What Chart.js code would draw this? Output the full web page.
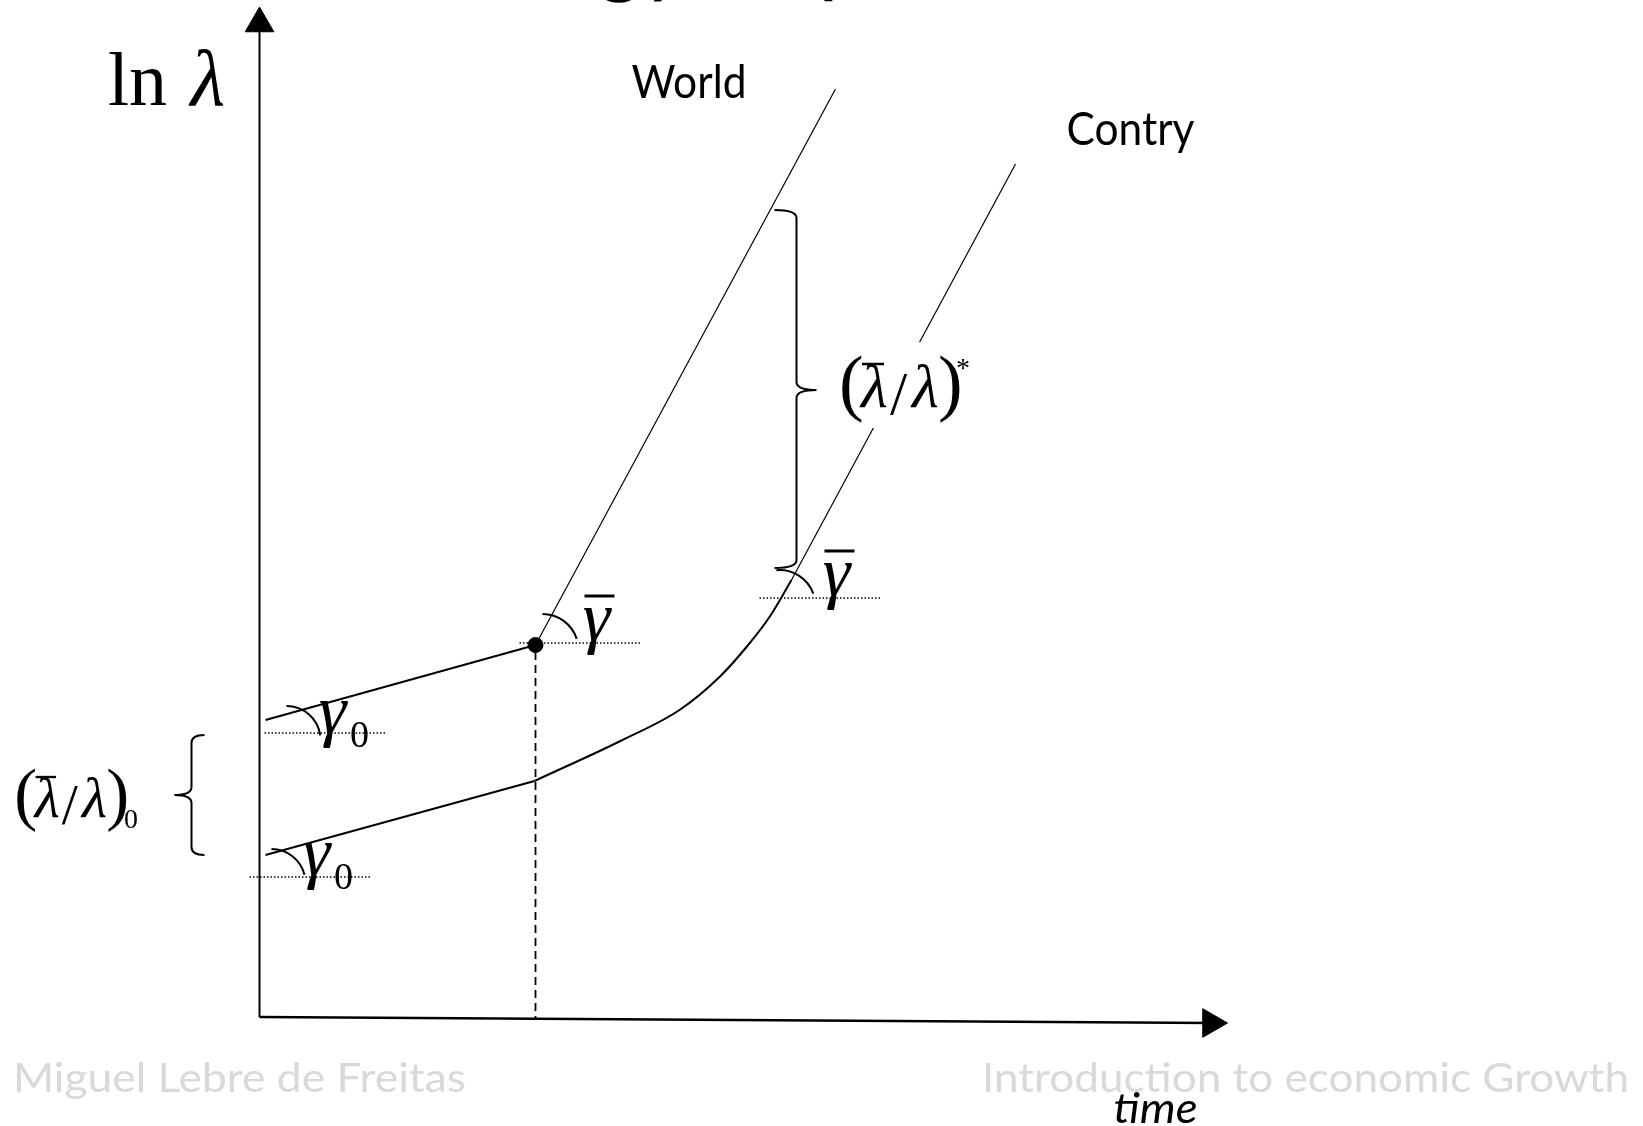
<!DOCTYPE html>
<html>
<head>
<meta charset="utf-8">
<title>Technology Gap</title>
<script src="https://cdn.jsdelivr.net/npm/chart.js@4.4.1/dist/chart.umd.min.js"></script>
<style>
  html, body { margin: 0; padding: 0; background: #fff; }
  canvas { display: block; }
</style>
</head>
<body>
<canvas id="gapChart" width="1643" height="1126"></canvas>
<script>
// time along x, ln(lambda) up y, both zero where the axes meet
const axisT = [0, 0, 95.15];
const axisL = [99.35, 0, -0.6];

const worldT = [0.6, 27.6, 57.6];
const worldL = [29.7, 37.2, 92.8];

// country: old growth, catch-up curve, then same slope as the world
const countryT = [0.6, 27.5, 36.3, 42.0, 46.0, 48.7, 51.0, 53.2, 75.6];
const countryL = [16.2, 23.6, 27.7, 30.7, 34.0, 37.0, 40.0, 43.7, 85.3];

// switch date for the world growth rate
const switchT = [27.6];
const switchL = [37.2];

// dotted horizontals under each angle
const guideT0 = [0.5, -1.0, 26.0, 50.0];
const guideT1 = [12.7, 11.2, 38.2, 62.2];
const guideL = [28.4, 14.0, 37.4, 41.9];

// text and markers, placed in the same t / ln(lambda) units
const angleArcs = [
  { t: 2.7, l: 27.7, r: 34, from: -90, to: -8 },
  { t: 1.2, l: 13.4, r: 34, from: -90, to: -14 },
  { t: 28.3, l: 36.7, r: 36, from: -90, to: -18 },
  { t: 52.0, l: 41.1, r: 36, from: -95, to: -20 }
];
const rateLabels = [
  { t: 7.3, l: 28.4, bar: false },
  { t: 5.7, l: 14.2, bar: false },
  { t: 33.7, l: 37.7, bar: true },
  { t: 57.7, l: 42.2, bar: true }
];
const braces = [
  { t: 53.7, top: 80.7, mid: 62.7, bottom: 44.9, hook: 22, tip: 20, dir: 1 },
  { t: -6.8, top: 28.2, mid: 22.2, bottom: 16.2, hook: 13, tip: 17, dir: -1 }
];
const ratioLabels = [
  { t: 58.25, l: 61.0, size: 1, mark: '*', clear: true },
  { t: -24.25, l: 20.0, size: 0.93, mark: '0', clear: false }
];

const pts = (ts, ls) => ts.map((t, i) => ({ x: t, y: ls[i] }));

function guidePoints() {
  const out = [];
  guideL.forEach((l, i) => {
    out.push({ x: guideT0[i], y: l }, { x: guideT1[i], y: l }, { x: guideT1[i], y: null });
  });
  return out;
}

function line(data, width, extra) {
  return Object.assign({
    data: data,
    showLine: true,
    borderColor: '#000',
    borderWidth: width,
    pointRadius: 0,
    fill: false,
    tension: 0
  }, extra || {});
}

function fitText(ctx, text, x, y, width) {
  const w = ctx.measureText(text).width;
  ctx.save();
  ctx.translate(x, y);
  ctx.scale(width / w, 1);
  ctx.fillText(text, 0, 0);
  ctx.restore();
}

function brace(ctx, x, yTop, yMid, yBot, hook, tip, dir) {
  const r = 8;
  ctx.beginPath();
  ctx.moveTo(x - dir * hook, yTop);
  ctx.quadraticCurveTo(x, yTop, x, yTop + r);
  ctx.lineTo(x, yMid - r);
  ctx.quadraticCurveTo(x, yMid, x + dir * tip, yMid);
  ctx.quadraticCurveTo(x, yMid, x, yMid + r);
  ctx.lineTo(x, yBot - r);
  ctx.quadraticCurveTo(x, yBot, x - dir * hook, yBot);
  ctx.stroke();
}

function ratio(ctx, x0, b, s, mark, clear) {
  if (clear) {
    ctx.fillStyle = '#fff';
    ctx.fillRect(x0 - 4 * s, b - 65 * s, 130 * s, 86 * s);
    ctx.fillStyle = '#000';
  }
  const serif = '"Liberation Serif", "DejaVu Serif", serif';
  ctx.font = `${74 * s}px ${serif}`;
  ctx.fillText('(', x0 - 3 * s, b);
  ctx.fillText(')', x0 + 96 * s, b);
  ctx.font = `italic ${62 * s}px ${serif}`;
  ctx.fillText('λ', x0 + 19 * s, b);
  ctx.fillText('λ', x0 + 70 * s, b);
  ctx.font = `${62 * s}px ${serif}`;
  ctx.fillText('/', x0 + 48 * s, b + 7 * s);
  ctx.lineWidth = 2.5 * s;
  ctx.beginPath();
  ctx.moveTo(x0 + 20 * s, b - 43 * s);
  ctx.lineTo(x0 + 42 * s, b - 43 * s);
  ctx.stroke();
  if (mark === '*') {
    ctx.font = `${28 * s}px ${serif}`;
    ctx.fillText('*', x0 + 114 * s, b - 30 * s);
  } else {
    ctx.font = `${30 * s}px ${serif}`;
    ctx.fillText(mark, x0 + 115 * s, b + 12 * s);
  }
}

const sketchNotes = {
  id: 'sketchNotes',
  afterDatasetsDraw(chart) {
    const { ctx, scales } = chart;
    const px = t => scales.x.getPixelForValue(t);
    const py = l => scales.y.getPixelForValue(l);
    const serif = '"Liberation Serif", "DejaVu Serif", serif';
    ctx.save();
    ctx.fillStyle = '#000';
    ctx.strokeStyle = '#000';
    ctx.textBaseline = 'alphabetic';
    ctx.textAlign = 'left';

    // slide title, mostly above the page edge
    ctx.font = '88px Lato, "Open Sans", sans-serif';
    const titleX = 597 - ctx.measureText('Technolo').width;
    ctx.fillText('Technology Gap', titleX, -14);

    // angle arcs
    ctx.lineWidth = 2;
    angleArcs.forEach(a => {
      ctx.beginPath();
      ctx.arc(px(a.t), py(a.l), a.r, a.from * Math.PI / 180, a.to * Math.PI / 180);
      ctx.stroke();
    });

    // growth-rate symbols
    rateLabels.forEach(g => {
      const cx = px(g.t), base = py(g.l);
      ctx.textAlign = 'center';
      ctx.font = `italic 70px ${serif}`;
      ctx.fillText('γ', cx, base);
      if (g.bar) {
        ctx.lineWidth = 3;
        ctx.beginPath();
        ctx.moveTo(cx - 12, base - 44);
        ctx.lineTo(cx + 18, base - 44);
        ctx.stroke();
      } else {
        ctx.font = `38px ${serif}`;
        ctx.fillText('0', cx + 27, base + 14);
      }
    });
    ctx.textAlign = 'left';

    // braces
    ctx.lineWidth = 2;
    braces.forEach(b => brace(ctx, px(b.t), py(b.top), py(b.mid), py(b.bottom), b.hook, b.tip, b.dir));

    // gap labels
    ratioLabels.forEach(r => ratio(ctx, px(r.t), py(r.l), r.size, r.mark, r.clear));

    // axis and curve names
    ctx.font = `76px ${serif}`;
    ctx.fillText('ln', px(-15.15), py(91.2));
    ctx.font = `italic 80px ${serif}`;
    ctx.fillText('λ', px(-6.9), py(91.2));

    ctx.font = '46px Lato, "Open Sans", sans-serif';
    fitText(ctx, 'World', px(37.2), py(91.9), 115);
    fitText(ctx, 'Contry', px(80.7), py(87.2), 128);

    // footer
    ctx.fillStyle = '#d9d9d9';
    ctx.font = '40px Lato, "Open Sans", sans-serif';
    fitText(ctx, 'Miguel Lebre de Freitas', 13, 1092, 453);
    fitText(ctx, 'Introduction to economic Growth', 982, 1092, 647);

    ctx.fillStyle = '#000';
    ctx.font = 'italic 42px Lato, "Open Sans", sans-serif';
    fitText(ctx, 'time', px(85.4), py(-10.6), 84);

    ctx.restore();
  }
};

document.addEventListener('DOMContentLoaded', () => {
  const ctx = document.getElementById('gapChart').getContext('2d');

  const datasets = [
    // axes with arrow heads
    line(pts(axisT, axisL), 2, {
      pointRadius: [16.5, 0, 16.5],
      pointStyle: 'triangle',
      pointRotation: [0, 0, 90],
      pointBackgroundColor: '#000',
      pointBorderColor: '#000',
      pointBorderWidth: 1,
      segment: { borderWidth: c => (c.p0DataIndex === 1 ? 2.6 : 2) }
    }),
    line(guidePoints(), 1.3, { borderDash: [1.5, 2], spanGaps: false }),
    line(pts(worldT, worldL), 2, {
      segment: { borderWidth: c => (c.p0DataIndex === 0 ? 2 : 1.2) }
    }),
    line(pts(countryT.slice(0, 2), countryL.slice(0, 2)), 2),
    line(pts(countryT.slice(1, 8), countryL.slice(1, 8)), 2, { cubicInterpolationMode: 'monotone' }),
    line(pts(countryT.slice(7), countryL.slice(7)), 1.2),
    line([{ x: switchT[0], y: switchL[0] - 0.7 }, { x: switchT[0], y: -0.2 }], 1.8, { borderDash: [8, 5] }),
    {
      data: pts(switchT, switchL),
      showLine: false,
      pointRadius: 7.5,
      pointBackgroundColor: '#000',
      pointBorderColor: '#000'
    }
  ];

  new Chart(ctx, {
    type: 'scatter',
    data: { datasets: datasets },
    options: {
      responsive: false,
      animation: false,
      devicePixelRatio: 1,
      events: [],
      layout: { padding: 0, autoPadding: false },
      plugins: { legend: { display: false }, tooltip: { enabled: false } },
      scales: {
        x: { type: 'linear', display: false, min: -25.95, max: 138.35 },
        y: { type: 'linear', display: false, min: -10.9, max: 101.7 }
      }
    },
    plugins: [sketchNotes]
  });
});
</script>
</body>
</html>
